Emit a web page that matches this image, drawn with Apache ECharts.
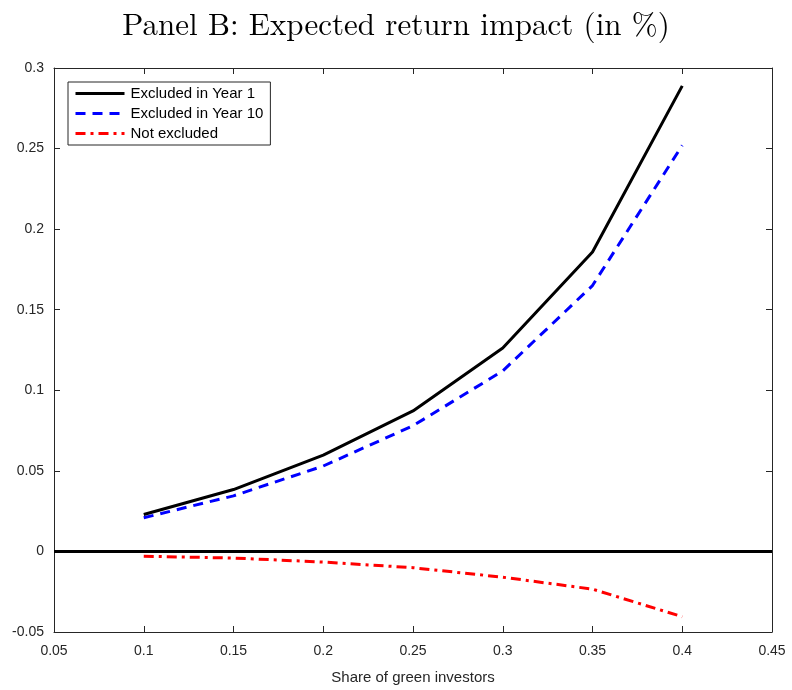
<!DOCTYPE html>
<html>
<head>
<meta charset="utf-8">
<script src="https://cdn.jsdelivr.net/npm/echarts@6/dist/echarts.min.js"></script>
<style>
  html, body { margin: 0; padding: 0; background: #fff; }
  #chart { width: 792px; height: 690px; }
</style>
</head>
<body>
<div id="chart"></div>
<script>
// Share of green investors (x values)
const shares = [0.10, 0.15, 0.20, 0.25, 0.30, 0.35, 0.40];
// Expected return impact, in percent
const excludedYear1 = [0.0229, 0.0384, 0.0598, 0.0872, 0.1262, 0.1858, 0.2889];
const excludedYear10 = [0.0209, 0.0345, 0.0530, 0.0780, 0.1120, 0.1650, 0.2520];
const notExcluded = [-0.0030, -0.0041, -0.0066, -0.0101, -0.0160, -0.0234, -0.0405];
const seriesNames = ['Excluded in Year 1', 'Excluded in Year 10', 'Not excluded'];

const pairs = (ys) => shares.map((x, i) => [x, ys[i]]);

const axisColor = '#262626';
const tickFont = { fontFamily: 'Liberation Sans, Arial, sans-serif', fontSize: 14, color: '#262626' };

const chart = echarts.init(document.getElementById('chart'), null, { renderer: 'canvas' });
chart.setOption({
  animation: false,
  backgroundColor: '#ffffff',
  title: {
    text: 'Panel B: Expected return impact (in %)',
    left: 'center',
    top: 5,
    textStyle: { fontFamily: 'Latin Modern Roman, Liberation Serif, DejaVu Serif, serif', fontSize: 31, fontWeight: 'normal', color: '#000' }
  },
  grid: { left: 54, right: 20, top: 68, bottom: 55 },
  legend: {
    orient: 'vertical',
    left: 68,
    top: 82,
    padding: [4, 7, 4, 6],
    itemGap: 5,
    itemWidth: 49,
    itemHeight: 14,
    borderColor: '#262626',
    borderWidth: 1,
    backgroundColor: '#fff',
    itemStyle: { opacity: 0 },
    lineStyle: { width: 3 },
    textStyle: { fontFamily: 'Liberation Sans, Arial, sans-serif', fontSize: 15, color: '#000', padding: [0, 0, 0, 1] },
    data: seriesNames
  },
  xAxis: [
    {
      type: 'value', min: 0.05, max: 0.45, interval: 0.05,
      name: 'Share of green investors', nameLocation: 'middle', nameGap: 38,
      nameTextStyle: { fontFamily: 'Liberation Sans, Arial, sans-serif', fontSize: 15, color: '#262626' },
      axisLine: { show: true, onZero: false, lineStyle: { color: axisColor, width: 1 } },
      axisTick: { show: true, inside: true, length: 6, lineStyle: { color: axisColor } },
      axisLabel: Object.assign({ margin: 12, formatter: (v) => String(+v.toFixed(2)) }, tickFont),
      splitLine: { show: false }
    },
    {
      type: 'value', min: 0.05, max: 0.45, interval: 0.05, position: 'top',
      axisLine: { show: true, onZero: false, lineStyle: { color: axisColor, width: 1 } },
      axisTick: { show: true, inside: true, length: 6, lineStyle: { color: axisColor } },
      axisLabel: { show: false },
      splitLine: { show: false }
    }
  ],
  yAxis: [
    {
      type: 'value', min: -0.05, max: 0.3, interval: 0.05,
      axisLine: { show: true, onZero: false, lineStyle: { color: axisColor, width: 1 } },
      axisTick: { show: true, inside: true, length: 6, lineStyle: { color: axisColor } },
      axisLabel: Object.assign({ margin: 10, formatter: (v) => String(+v.toFixed(2)) }, tickFont),
      splitLine: { show: false }
    },
    {
      type: 'value', min: -0.05, max: 0.3, interval: 0.05, position: 'right',
      axisLine: { show: true, onZero: false, lineStyle: { color: axisColor, width: 1 } },
      axisTick: { show: true, inside: true, length: 6, lineStyle: { color: axisColor } },
      axisLabel: { show: false },
      splitLine: { show: false }
    }
  ],
  series: [
    {
      name: seriesNames[0], type: 'line', data: pairs(excludedYear1),
      symbol: 'none', color: '#000',
      lineStyle: { color: '#000', width: 3, type: 'solid' },
      markLine: {
        silent: true, symbol: 'none', label: { show: false },
        lineStyle: { color: '#000', width: 3, type: 'solid' },
        data: [{ yAxis: 0 }]
      },
      z: 3
    },
    {
      name: seriesNames[1], type: 'line', data: pairs(excludedYear10),
      symbol: 'none', color: '#0000ff',
      lineStyle: { color: '#0000ff', width: 3, type: [10, 7] },
      z: 2
    },
    {
      name: seriesNames[2], type: 'line', data: pairs(notExcluded),
      symbol: 'none', color: '#ff0000',
      lineStyle: { color: '#ff0000', width: 3, type: [10, 5, 3, 5] },
      z: 2
    }
  ]
});
</script>
</body>
</html>
